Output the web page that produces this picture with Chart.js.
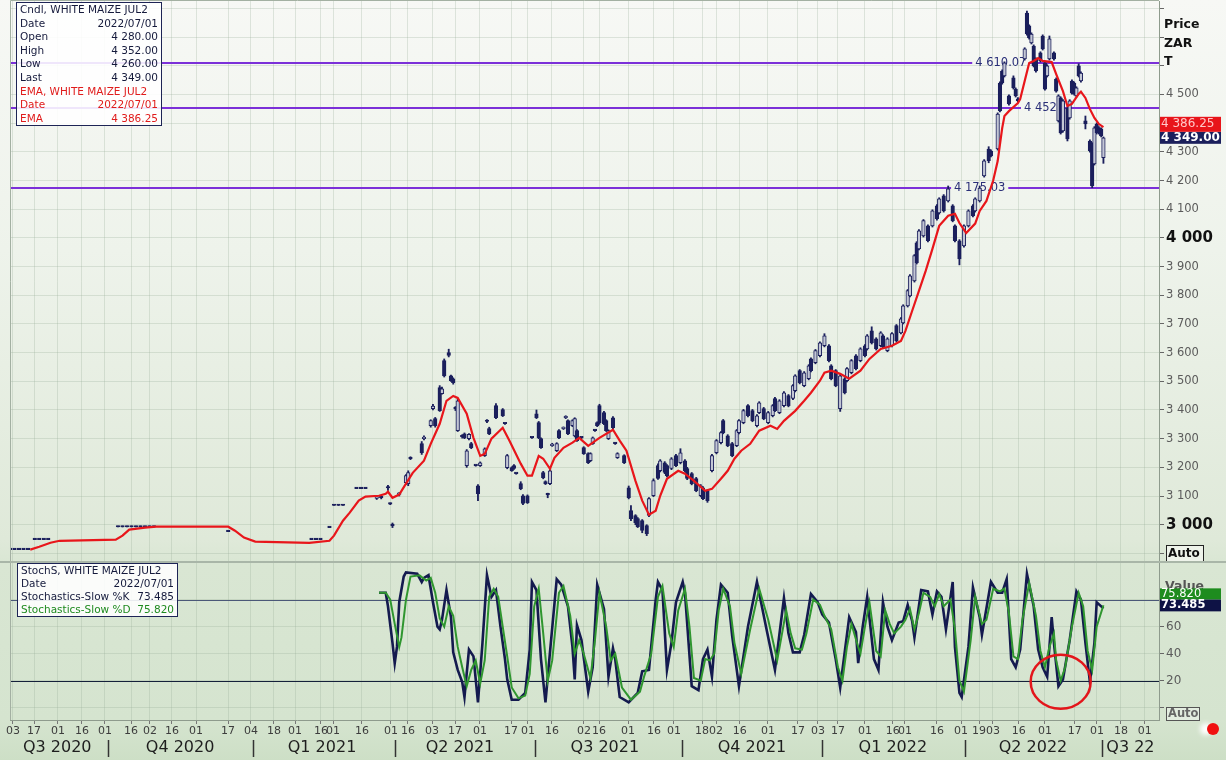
<!DOCTYPE html>
<html>
<head>
<meta charset="utf-8">
<script src="https://cdn.jsdelivr.net/npm/chart.js"></script>
<style>
  body { margin: 0; }
  #wrap { position: relative; width: 1226px; height: 760px; overflow: hidden;
    background: linear-gradient(to bottom, #f7f8f5 0px, #eef3eb 250px, #dfe9d9 540px, #d9e6d3 565px, #d5e4cf 720px, #cddfc6 760px);
    font-family: "DejaVu Sans", Tahoma, sans-serif; }
  canvas { position: absolute; left: 0; }
  #priceChart { top: 0; }
  #stochChart { top: 562px; }
  .sep { position: absolute; left: 0; top: 561px; width: 1226px; height: 2px; background: #a9b6a8; }
  .box { position: absolute; background: rgba(255,255,255,0.88); border: 1px solid #1d2455;
    font-size: 10.5px; line-height: 13.6px; padding: 0 3px; color: #151a3c; white-space: nowrap; }
  .box .r { display: flex; justify-content: space-between; }
  .red { color: #e01b1b; }
  .grn { color: #1f8a1f; }
  .dot { position: absolute; left: 1207px; top: 723px; width: 12px; height: 12px; border-radius: 50%;
    background: #f01010; box-shadow: -7px 0 5px #fff; }
</style>
</head>
<body>
<div id="wrap">
  <canvas id="priceChart" width="1226" height="562"></canvas>
  <canvas id="stochChart" width="1226" height="198"></canvas>
  <div class="sep"></div>

  <div class="box" style="left:16px;top:2px;width:138px;">
    <div>Cndl, WHITE MAIZE JUL2</div>
    <div class="r"><span>Date</span><span>2022/07/01</span></div>
    <div class="r"><span>Open</span><span>4 280.00</span></div>
    <div class="r"><span>High</span><span>4 352.00</span></div>
    <div class="r"><span>Low</span><span>4 260.00</span></div>
    <div class="r"><span>Last</span><span>4 349.00</span></div>
    <div class="red">EMA, WHITE MAIZE JUL2</div>
    <div class="r red"><span>Date</span><span>2022/07/01</span></div>
    <div class="r red"><span>EMA</span><span>4 386.25</span></div>
  </div>

  <div class="box" style="left:17px;top:563px;width:153px;line-height:13px;">
    <div>StochS, WHITE MAIZE JUL2</div>
    <div class="r"><span>Date</span><span>2022/07/01</span></div>
    <div class="r"><span>Stochastics-Slow %K</span><span>73.485</span></div>
    <div class="r grn"><span>Stochastics-Slow %D</span><span>75.820</span></div>
  </div>

  <div class="dot"></div>
</div>

<script>
// x axis unit: trading day counted from 3 Aug 2020
const X_MAX = 510.7;

const tickDays = [1.3, 10.7, 21.3, 32, 42.2, 53.8, 62.2, 72, 82.7, 96.9,
  107.1, 117.3, 126.7, 138.2, 143.6, 156.4, 169.3, 176.9, 187.6, 197.8,
  208.9, 222.7, 230.2, 240.9, 255.1, 261.8, 274.7, 286.2, 295.1, 307.6,
  313.8, 324.4, 336.9, 350.2, 359.1, 368, 380, 392.4, 397.8, 412,
  422.7, 430.7, 436.9, 448.4, 460, 473.3, 483.1, 493.8, 504.4];
const tickLabels = ["03","17","01","16","01","16","02","16","01","17",
  "04","18","01","16","01","16","01","16","03","17",
  "01","17","01","16","02","16","01","16","01","18",
  "02","16","01","17","03","17","01","16","01","16",
  "01","19","03","16","01","17","01","18","01"];

const quarterLabels = ["Q3 2020","Q4 2020","Q1 2021","Q2 2021","Q3 2021","Q4 2021","Q1 2022","Q2 2022","Q3 22"];
const quarterCenters = [21, 75.6, 138.7, 200, 264.4, 329.8, 392.4, 454.7, 498];
const quarterBounds = [43.6, 108, 171.1, 233.3, 298.7, 360.9, 424.4, 485.3];

const priceTicks = [2900,3000,3100,3200,3300,3400,3500,3600,3700,3800,3900,4000,4100,4200,4300,4400,4500,4600,4700,4800];
const stochTicks = [0, 20, 40, 60, 80];

const candleDay = [0,2,4,6,8,11,13,15,17,48,
  50,52,54,56,58,60,62,64,97,134,
  136,138,142,144,146,148,154,156,158,163,
  165,168,169,170,173,176,177,178,183,184,
  187,188,189,191,192,193,195,196,197,198,
  199,201,202,203,204,205,207,208,209,211,
  212,213,216,219,220,221,223,224,225,227,
  228,230,232,234,235,236,237,238,239,240,
  241,243,244,246,247,248,250,251,252,254,
  255,257,258,259,260,261,262,264,265,266,
  268,269,270,273,275,276,278,279,281,283,
  284,286,288,289,291,292,294,296,298,300,
  301,303,305,307,308,310,312,314,316,317,
  319,321,323,324,326,328,330,332,333,335,
  337,339,340,342,344,346,348,349,351,353,
  355,356,358,360,362,364,365,367,369,371,
  372,374,376,378,380,381,383,385,387,388,
  390,392,394,396,397,399,400,402,403,404,
  406,408,410,412,413,415,417,419,420,422,
  424,426,428,429,431,433,435,436,439,440,
  441,442,444,446,447,448,451,452,453,454,
  455,456,458,459,460,461,462,464,465,466,
  467,468,470,471,472,473,474,475,476,478,
  480,481,482,483,484,485,486];

const candleOpen = [2913,2913,2913,2913,2913,2948,2948,2948,2948,2992,
  2992,2992,2992,2992,2992,2992,2992,2992,2976,2948,
  2948,2948,2990,3067,3067,3067,3126,3126,3126,3092,
  3096,3130,3074,3002,3106,3147,3143,3234,3283,3300,
  3345,3405,3370,3478,3457,3572,3600,3519,3509,3408,
  3328,3310,3317,3206,3300,3283,3206,3136,3206,3241,
  3363,3335,3415,3401,3352,3199,3199,3206,3178,3143,
  3101,3101,3303,3387,3356,3300,3182,3150,3108,3143,
  3276,3258,3328,3335,3373,3363,3345,3310,3328,3303,
  3269,3248,3223,3283,3328,3356,3415,3391,3363,3300,
  3373,3283,3234,3241,3129,3049,3032,3021,3014,2997,
  3032,3101,3206,3188,3216,3206,3196,3241,3216,3223,
  3196,3178,3161,3101,3129,3119,3188,3251,3286,3363,
  3310,3283,3276,3321,3356,3415,3398,3345,3391,3405,
  3356,3380,3440,3391,3415,3450,3440,3467,3537,3485,
  3509,3578,3565,3589,3624,3624,3554,3537,3405,3509,
  3502,3530,3589,3572,3624,3613,3676,3648,3624,3659,
  3607,3624,3694,3669,3704,3763,3798,3850,3983,3962,
  4007,4042,4042,4112,4087,4147,4129,4112,4042,3990,
  3972,4042,4112,4094,4129,4216,4310,4303,4310,4540,
  4582,4565,4495,4558,4519,4485,4624,4784,4739,4680,
  4669,4624,4645,4704,4610,4565,4624,4645,4554,4408,
  4488,4373,4453,4418,4547,4540,4495,4600,4547,4408,
  4338,4328,4258,4397,4384,4380,4280];

const candleHigh = [2913,2913,2913,2913,2913,2948,2948,2948,2948,2992,
  2992,2992,2992,2992,2992,2992,2992,2992,2976,2948,
  2948,2948,2990,3067,3067,3067,3126,3126,3126,3098,
  3100,3137,3076,3006,3112,3175,3188,3237,3290,3310,
  3366,3420,3374,3485,3480,3578,3612,3522,3512,3412,
  3440,3314,3320,3262,3318,3287,3208,3140,3219,3268,
  3367,3340,3422,3405,3354,3245,3202,3210,3180,3150,
  3105,3104,3305,3400,3360,3303,3186,3153,3110,3192,
  3284,3286,3332,3341,3380,3366,3366,3373,3332,3306,
  3272,3251,3251,3306,3331,3359,3420,3395,3366,3331,
  3377,3286,3251,3244,3135,3067,3035,3025,3018,3000,
  3095,3160,3212,3227,3220,3210,3234,3245,3265,3227,
  3200,3182,3165,3140,3133,3122,3245,3297,3325,3367,
  3314,3287,3332,3367,3402,3419,3402,3384,3429,3409,
  3395,3419,3444,3436,3464,3454,3489,3523,3541,3534,
  3558,3582,3611,3638,3666,3628,3558,3541,3523,3513,
  3548,3576,3593,3617,3628,3663,3690,3652,3673,3663,
  3652,3670,3698,3722,3767,3820,3872,3942,3987,4029,
  4064,4046,4098,4116,4140,4151,4181,4116,4046,3994,
  4046,4098,4116,4140,4181,4273,4318,4307,4436,4544,
  4586,4614,4499,4565,4523,4489,4663,4791,4743,4715,
  4673,4628,4649,4708,4614,4604,4704,4649,4558,4499,
  4492,4482,4457,4482,4551,4544,4527,4607,4579,4425,
  4342,4332,4388,4401,4388,4384,4352];

const candleLow = [2913,2913,2913,2913,2913,2948,2948,2948,2948,2992,
  2992,2992,2992,2992,2992,2992,2992,2992,2976,2948,
  2948,2948,2990,3067,3067,3067,3126,3126,3126,3088,
  3090,3120,3070,2990,3100,3140,3136,3227,3245,3296,
  3340,3400,3340,3395,3455,3515,3585,3500,3490,3398,
  3325,3302,3300,3200,3296,3265,3204,3084,3203,3238,
  3356,3314,3370,3377,3350,3195,3186,3193,3176,3122,
  3070,3074,3301,3370,3300,3266,3160,3140,3094,3140,
  3273,3255,3300,3332,3370,3314,3342,3306,3290,3300,
  3245,3213,3220,3280,3325,3342,3350,3349,3325,3297,
  3335,3280,3231,3213,3090,3014,3000,2990,2972,2962,
  3028,3098,3158,3184,3178,3167,3192,3202,3212,3184,
  3157,3139,3115,3097,3087,3078,3184,3247,3282,3317,
  3272,3237,3272,3317,3352,3376,3359,3341,3387,3366,
  3352,3376,3394,3387,3411,3411,3436,3463,3491,3481,
  3505,3533,3561,3585,3620,3568,3505,3481,3395,3456,
  3498,3526,3540,3568,3585,3609,3630,3609,3620,3616,
  3603,3620,3637,3665,3700,3759,3794,3846,3909,3958,
  4003,3986,4038,4062,4083,4090,4125,4056,3986,3906,
  3968,4038,4073,4090,4125,4212,4262,4282,4306,4439,
  4536,4561,4463,4519,4491,4474,4620,4707,4693,4676,
  4596,4578,4613,4655,4515,4561,4620,4620,4508,4404,
  4362,4369,4338,4414,4501,4498,4491,4561,4543,4380,
  4299,4175,4254,4362,4362,4352,4260];

const candleClose = [2913,2913,2913,2913,2913,2948,2948,2948,2948,2992,
  2992,2992,2992,2992,2992,2992,2992,2992,2976,2948,
  2948,2948,2990,3067,3067,3067,3126,3126,3126,3096,
  3094,3128,3072,2996,3108,3171,3182,3230,3251,3304,
  3363,3414,3345,3398,3474,3519,3590,3502,3495,3404,
  3432,3306,3303,3258,3315,3269,3206,3108,3216,3265,
  3360,3317,3373,3380,3352,3241,3188,3196,3178,3126,
  3074,3077,3303,3373,3303,3269,3164,3143,3104,3188,
  3280,3283,3303,3338,3376,3317,3363,3370,3293,3303,
  3248,3216,3248,3303,3328,3345,3356,3352,3328,3328,
  3338,3283,3248,3216,3094,3021,3007,2993,2980,2969,
  3091,3154,3161,3223,3182,3171,3230,3206,3251,3188,
  3161,3143,3119,3136,3091,3084,3241,3293,3321,3321,
  3276,3241,3328,3363,3398,3380,3363,3380,3425,3370,
  3391,3415,3398,3432,3460,3415,3485,3519,3495,3530,
  3554,3537,3607,3634,3659,3572,3509,3485,3519,3460,
  3544,3572,3544,3613,3589,3659,3634,3613,3669,3620,
  3648,3666,3641,3718,3763,3816,3868,3938,3913,4025,
  4060,3990,4094,4066,4136,4094,4171,4060,3990,3927,
  4042,4094,4077,4136,4174,4269,4269,4286,4432,4443,
  4540,4610,4467,4523,4495,4478,4659,4711,4697,4711,
  4600,4582,4617,4659,4519,4600,4694,4624,4512,4495,
  4366,4478,4345,4478,4505,4502,4523,4565,4575,4397,
  4303,4181,4384,4366,4366,4356,4349];

const emaDay = [9,13,18,22,47,50,53,60,65,97,100,104,109,133,142,144,148,151,155,158,
  164,167,168,170,173,176,179,184,187,191,194,197,199,203,206,209,211,214,219,222,
  227,230,232,235,237,240,242,246,250,253,257,262,268,271,274,278,281,284,287,289,
  292,297,300,304,309,312,316,319,322,325,329,333,338,341,344,349,353,356,360,362,
  365,369,373,378,382,387,392,396,398,401,404,407,410,413,417,420,422,425,429,431,
  434,437,439,441,442,444,448,449,451,453,455,457,459,463,465,468,470,472,475,476,
  478,480,482,484,486];
const emaValue = [2913,2923,2937,2944,2948,2962,2983,2990,2993,2993,2979,2955,2941,2937,2944,2962,3014,3042,3084,3098,
  3101,3108,3115,3094,3105,3143,3181,3223,3282,3352,3432,3449,3442,3387,3303,3240,3247,3300,3338,3293,
  3213,3171,3171,3240,3230,3195,3233,3268,3286,3303,3275,3303,3331,3293,3258,3153,3084,3035,3049,3101,
  3160,3188,3178,3153,3118,3125,3160,3188,3230,3258,3282,3328,3345,3334,3362,3397,3432,3460,3502,3530,
  3537,3526,3509,3537,3578,3613,3624,3641,3676,3746,3815,3885,3962,4042,4077,4084,4052,4017,4050,4094,
  4129,4200,4268,4383,4425,4442,4470,4484,4547,4610,4617,4627,4617,4613,4571,4512,4460,4467,4502,4510,
  4488,4449,4418,4397,4386.25];

const levels = [4610.07, 4452, 4175.03];
const levelLabels = ["4 610.07", "4 452", "4 175.03"];

const stochKDay = [164,167,168,170,171,172,173,175,176,181,
  183,184,186,188,190,191,192,194,196,197,
  199,201,202,204,206,208,210,212,214,216,
  218,220,221,223,226,229,231,232,234,236,
  238,240,243,245,248,250,251,252,254,257,
  259,261,264,266,268,269,271,275,279,281,
  284,287,288,290,292,294,296,299,300,303,
  306,308,310,312,314,316,319,321,324,328,
  332,336,340,344,346,348,351,353,356,359,
  361,364,367,369,371,373,376,377,379,381,
  384,386,388,390,392,395,397,399,401,402,
  405,408,410,412,414,416,419,420,422,423,
  426,428,431,432,436,439,441,443,445,447,
  449,452,455,457,459,461,463,464,466,468,
  471,474,476,478,480,482,483,486];
const stochK = [85,85,75,48,33,45,78,97,100,99,
  93,96,98,78,60,58,65,87,67,41,
  28,19,8,43,38,4,48,98,82,87,
  60,36,21,6,6,11,43,93,87,36,
  4,41,95,91,75,45,21,61,50,12,
  30,91,73,23,44,36,8,4,11,27,
  28,80,93,87,28,48,78,93,85,16,
  13,36,43,23,65,91,85,53,16,60,
  93,60,28,81,55,41,41,54,84,78,
  69,63,36,15,41,67,56,33,60,82,
  36,28,78,60,50,63,64,76,64,52,
  87,86,69,86,82,58,93,45,11,8,
  45,89,67,54,93,85,85,95,36,30,
  43,99,75,43,30,23,67,48,16,21,
  50,86,80,48,19,48,78,73.485];

const stochDDay = [164,167,169,171,173,174,176,178,182,185,
  187,189,191,193,195,197,199,201,203,205,
  207,209,211,213,215,217,219,221,223,226,
  229,231,233,235,237,239,241,244,246,249,
  251,253,255,258,260,262,265,267,269,272,
  276,280,282,285,288,290,293,295,297,300,
  302,304,307,309,311,313,315,317,320,322,
  325,329,333,337,341,345,347,349,352,354,
  357,360,362,365,368,370,372,374,377,378,
  380,382,385,387,389,391,393,396,398,400,
  402,404,406,409,411,413,415,418,420,422,
  424,427,429,432,434,437,440,442,444,446,
  448,450,453,456,458,460,462,464,465,467,
  469,472,475,477,479,481,483,486];
const stochD = [85,85,80,62,45,52,80,97,98,94,
  96,85,66,60,75,68,45,30,16,28,
  35,18,35,82,88,82,60,38,15,7,
  9,25,75,88,55,20,35,85,90,68,
  40,50,40,22,50,85,60,35,40,15,
  6,12,24,40,82,90,55,45,72,88,
  60,22,20,36,35,40,72,88,75,48,
  25,58,88,65,35,72,55,44,43,55,
  80,76,68,58,30,20,45,62,45,40,
  60,78,42,38,72,62,55,60,65,73,
  58,70,85,82,75,84,75,80,58,20,
  12,50,82,62,65,88,86,88,70,38,
  36,65,92,68,42,30,45,55,35,20,
  30,60,85,75,42,28,60,75.82];

// label anchors (in trading days) for the level texts
const levelStyle = { labelAt: [440.4, 458, 431], color: '#7b30d8', text: '#2a2f78' };

const FONT = '"DejaVu Sans", Tahoma, sans-serif';
Chart.defaults.font.family = FONT;
const NAVY = '#1b1f5c';
const GRID = 'rgba(150,172,150,0.28)';

function spaced(v) { return String(v).replace(/\B(?=(\d{3})+(?!\d))/g, ' '); }

const pricePlugin = {
  id: 'priceExtras',
  beforeDatasetsDraw(chart) {
    const { ctx, chartArea: a, scales: { x, y } } = chart;
    ctx.save();
    ctx.font = '11.5px ' + FONT;
    levels.forEach((lv, i) => {
      const py = Math.round(y.getPixelForValue(lv));
      const cx = x.getPixelForValue(levelStyle.labelAt[i]);
      const w = ctx.measureText(levelLabels[i]).width;
      ctx.strokeStyle = levelStyle.color;
      ctx.lineWidth = 2;
      ctx.beginPath();
      ctx.moveTo(a.left, py); ctx.lineTo(cx - w / 2 - 3, py);
      ctx.moveTo(cx + w / 2 + 3, py); ctx.lineTo(a.right, py);
      ctx.stroke();
      ctx.fillStyle = levelStyle.text;
      ctx.textAlign = 'center';
      ctx.textBaseline = 'middle';
      ctx.fillText(levelLabels[i], cx, py);
    });
    ctx.restore();
  },
  afterDraw(chart) {
    const { ctx, chartArea: a, scales: { y } } = chart;
    ctx.save();
    // frame
    ctx.strokeStyle = '#a3b0a2';
    ctx.lineWidth = 1;
    ctx.beginPath();
    ctx.moveTo(a.left + 0.5, a.bottom); ctx.lineTo(a.left + 0.5, 0.5); ctx.lineTo(a.right, 0.5);
    ctx.stroke();
    // axis header
    ctx.fillStyle = '#111';
    ctx.font = 'bold 12.5px ' + FONT;
    ctx.textAlign = 'left';
    ctx.textBaseline = 'middle';
    ctx.fillText('Price', a.right + 5, 25);
    ctx.fillText('ZAR', a.right + 5, 44);
    ctx.fillText('T', a.right + 5, 62);
    // Auto box
    ctx.fillStyle = '#eef3ea';
    ctx.fillRect(a.right + 7, 545, 37, 16);
    ctx.strokeStyle = '#222';
    ctx.strokeRect(a.right + 7.5, 545.5, 37, 16);
    ctx.fillStyle = '#111';
    ctx.font = 'bold 12px ' + FONT;
    ctx.fillText('Auto', a.right + 9, 554);
    // last value tags
    const last = candleClose[candleClose.length - 1];
    const ema = emaValue[emaValue.length - 1];
    const yl = y.getPixelForValue(last);
    ctx.fillStyle = NAVY;
    ctx.fillRect(a.right + 1, yl - 6, 61, 12);
    ctx.fillStyle = '#e8141a';
    ctx.fillRect(a.right + 1, yl - 21, 61, 15);
    ctx.font = '12px ' + FONT;
    ctx.fillStyle = '#ffc8c8';
    ctx.fillText(spaced(ema.toFixed(2).split('.')[0]) + '.' + ema.toFixed(2).split('.')[1], a.right + 2, yl - 13.5);
    ctx.font = 'bold 12px ' + FONT;
    ctx.fillStyle = '#fff';
    ctx.fillText(spaced(last) + '.00', a.right + 2, yl);
    ctx.restore();
  }
};

new Chart(document.getElementById('priceChart'), {
  type: 'bar',
  data: {
    datasets: [
      { type: 'line', label: 'EMA', data: emaDay.map((d, i) => ({ x: d, y: emaValue[i] })),
        borderColor: '#e8161b', borderWidth: 2.2, pointRadius: 0, tension: 0, order: 1 },
      { label: 'Body', data: candleDay.map((d, i) => ({ x: d, y: [candleOpen[i], candleClose[i]] })),
        barThickness: 3.6, minBarLength: 1.5, grouped: false, borderSkipped: false,
        borderWidth: 1, borderColor: NAVY,
        backgroundColor: c => (c.raw && c.raw.y[1] > c.raw.y[0]) ? '#c3c7d5' : NAVY, order: 2 },
      { label: 'Wick', data: candleDay.map((d, i) => ({ x: d, y: [candleLow[i], candleHigh[i]] })),
        barThickness: 1.2, minBarLength: 1, grouped: false, borderWidth: 0,
        backgroundColor: NAVY, order: 3 }
    ]
  },
  options: {
    responsive: false, animation: false, events: [],
    layout: { padding: { left: 10, top: 1, right: 0, bottom: 0 } },
    plugins: { legend: { display: false }, tooltip: { enabled: false } },
    scales: {
      x: { type: 'linear', min: 0, max: X_MAX, offset: false,
        afterBuildTicks: s => { s.ticks = tickDays.map(v => ({ value: v })); },
        afterFit: s => { s.paddingLeft = 0; s.paddingRight = 0; },
        ticks: { display: false },
        grid: { offset: false, drawTicks: false, color: GRID },
        border: { display: false } },
      y: { position: 'right', min: 2870, max: 4826,
        afterBuildTicks: s => { s.ticks = priceTicks.map(v => ({ value: v })); },
        afterFit: s => { s.width = 67; s.paddingTop = 0; s.paddingBottom = 0; },
        ticks: { padding: 2, autoSkip: false,
          color: c => (c.tick && c.tick.value % 1000 === 0) ? '#111' : '#5b5b5b',
          font: c => (c.tick && c.tick.value % 1000 === 0) ? { size: 15, weight: 'bold' } : { size: 11.5 },
          callback: v => (v >= 3000 && v <= 4500) ? spaced(v) : '' },
        grid: { color: GRID, tickLength: 5, tickColor: '#666' },
        border: { color: '#8e9b8d' } }
    }
  },
  plugins: [pricePlugin]
});

const stochPlugin = {
  id: 'stochExtras',
  beforeDatasetsDraw(chart) {
    const { ctx, chartArea: a, scales: { y } } = chart;
    ctx.save();
    ctx.lineWidth = 1.2;
    [[80, '#4b5878'], [20, '#14203a']].forEach(([v, col]) => {
      const py = Math.round(y.getPixelForValue(v)) + 0.5;
      ctx.strokeStyle = col;
      ctx.beginPath(); ctx.moveTo(a.left, py); ctx.lineTo(a.right, py); ctx.stroke();
    });
    ctx.strokeStyle = '#a3b0a2';
    ctx.lineWidth = 1;
    ctx.beginPath(); ctx.moveTo(a.left + 0.5, a.top); ctx.lineTo(a.left + 0.5, a.bottom); ctx.stroke();
    ctx.restore();
  },
  afterDatasetsDraw(chart) {
    const { ctx, scales: { x, y } } = chart;
    ctx.save();
    ctx.strokeStyle = '#e3161b';
    ctx.lineWidth = 2.5;
    ctx.beginPath();
    ctx.ellipse(x.getPixelForValue(467), y.getPixelForValue(20) + 1, 30, 27, 0, 0, Math.PI * 2);
    ctx.stroke();
    ctx.restore();
  },
  afterDraw(chart) {
    const { ctx, chartArea: a, scales: { x, y } } = chart;
    ctx.save();
    ctx.fillStyle = '#1e1e1e';
    ctx.font = '16px ' + FONT;
    ctx.textAlign = 'center';
    ctx.textBaseline = 'middle';
    quarterLabels.forEach((q, i) => ctx.fillText(q, x.getPixelForValue(quarterCenters[i]), a.bottom + 28));
    ctx.strokeStyle = '#333';
    ctx.lineWidth = 1.5;
    quarterBounds.forEach(d => {
      const px = Math.round(x.getPixelForValue(d)) + 0.5;
      ctx.beginPath(); ctx.moveTo(px, a.bottom + 20); ctx.lineTo(px, a.bottom + 37); ctx.stroke();
    });
    // axis header + tags
    ctx.textAlign = 'left';
    ctx.font = 'bold 12.5px ' + FONT;
    ctx.fillStyle = '#555';
    ctx.fillText('Value', a.right + 6, 25);
    const k = stochK[stochK.length - 1];
    const dv = stochD[stochD.length - 1];
    const yk = y.getPixelForValue(k) - 3;
    ctx.fillStyle = '#0e1245';
    ctx.fillRect(a.right + 1, yk - 6, 61, 12);
    ctx.fillStyle = '#1e8c1e';
    ctx.fillRect(a.right + 1, yk - 17, 61, 11);
    ctx.font = '11.5px ' + FONT;
    ctx.fillStyle = '#fff';
    ctx.fillText(dv.toFixed(3), a.right + 2, yk - 11.5);
    ctx.font = 'bold 11.5px ' + FONT;
    ctx.fillText(k.toFixed(3), a.right + 2, yk);
    // Auto box
    ctx.fillStyle = '#e3ede0';
    ctx.fillRect(a.right + 7, a.bottom - 13, 33, 14);
    ctx.strokeStyle = '#555';
    ctx.lineWidth = 1;
    ctx.strokeRect(a.right + 7.5, a.bottom - 12.5, 33, 13);
    ctx.fillStyle = '#666';
    ctx.font = 'bold 11.5px ' + FONT;
    ctx.fillText('Auto', a.right + 9, a.bottom - 5.5);
    ctx.restore();
  }
};

new Chart(document.getElementById('stochChart'), {
  type: 'line',
  data: {
    datasets: [
      { label: '%K', data: stochKDay.map((d, i) => ({ x: d, y: stochK[i] })),
        borderColor: '#141a4f', borderWidth: 2.6, pointRadius: 0, tension: 0, order: 2 },
      { label: '%D', data: stochDDay.map((d, i) => ({ x: d, y: stochD[i] })),
        borderColor: '#2f962f', borderWidth: 2, pointRadius: 0, tension: 0, order: 1 }
    ]
  },
  options: {
    responsive: false, animation: false, events: [],
    layout: { padding: { left: 10, top: 1, right: 0, bottom: 0 } },
    plugins: { legend: { display: false }, tooltip: { enabled: false } },
    scales: {
      x: { type: 'linear', min: 0, max: X_MAX, offset: false,
        afterBuildTicks: s => { s.ticks = tickDays.map(v => ({ value: v })); },
        afterFit: s => { s.height = 40; s.paddingLeft = 0; s.paddingRight = 0; },
        ticks: { autoSkip: false, maxRotation: 0, minRotation: 0, padding: 1, color: '#3d3d3d',
          font: { size: 11 }, callback: (v, i) => tickLabels[i] },
        grid: { offset: false, color: GRID, tickLength: 4, tickColor: '#777' },
        border: { color: '#8e9b8d' } },
      y: { position: 'right', min: -9, max: 107,
        afterBuildTicks: s => { s.ticks = stochTicks.map(v => ({ value: v })); },
        afterFit: s => { s.width = 67; s.paddingTop = 0; s.paddingBottom = 0; },
        ticks: { padding: 2, color: '#5b5b5b', font: { size: 12 },
          callback: v => v === 0 ? '' : String(v) },
        grid: { color: GRID, tickLength: 5, tickColor: '#666' },
        border: { color: '#8e9b8d' } }
    }
  },
  plugins: [stochPlugin]
});
</script>
</body>
</html>
